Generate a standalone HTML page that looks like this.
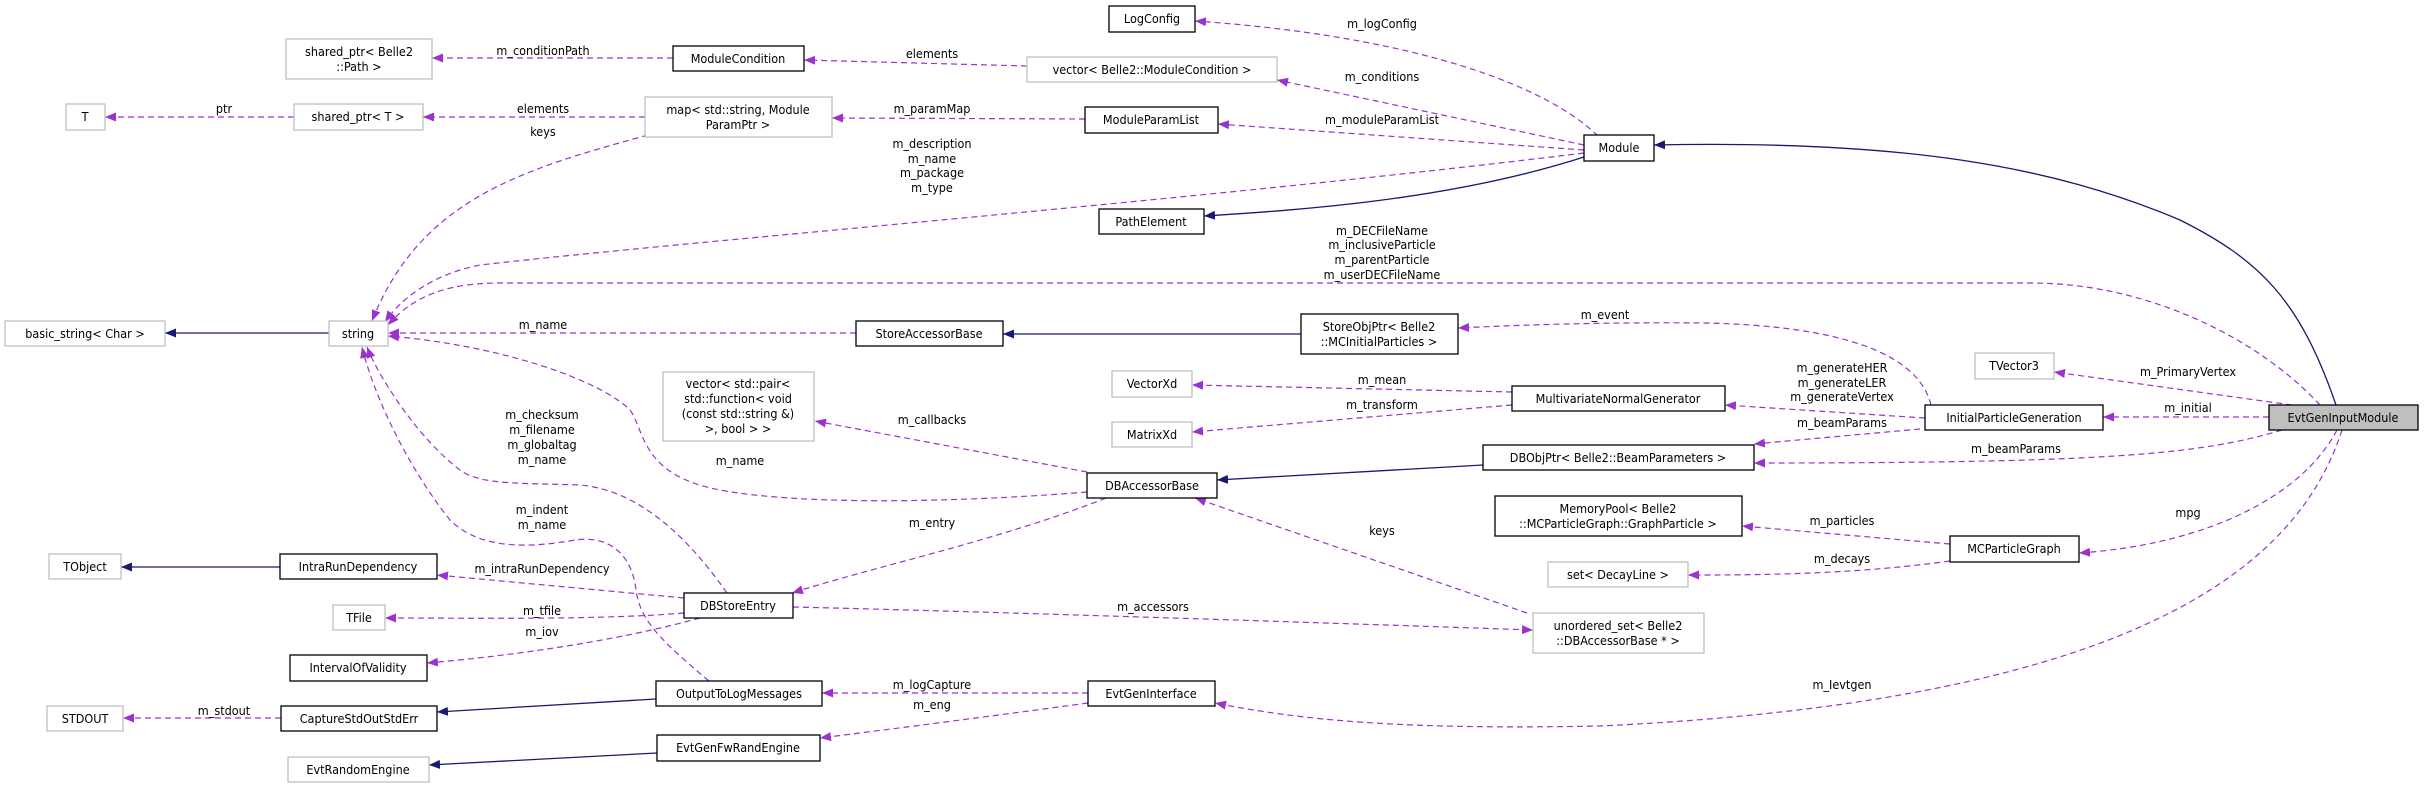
<!DOCTYPE html>
<html><head><meta charset="utf-8"><style>
html,body{margin:0;padding:0;background:#fff;}
svg{display:block;}
text{font-family:"DejaVu Sans","Liberation Sans",sans-serif;font-size:12.5px;fill:#000;font-stretch:condensed;}
.g{fill:#fff;stroke:#bfbfbf;stroke-width:1.3;}
.b{fill:#fff;stroke:#000;stroke-width:1.3;}
.d{fill:none;stroke:#9a32cd;stroke-width:1.2;stroke-dasharray:6,4;}
.s{fill:none;stroke:#191970;stroke-width:1.3;}
</style></head><body>
<svg width="2424" height="788" viewBox="0 0 2424 788" xmlns="http://www.w3.org/2000/svg">
<defs>
<marker id="ap" markerUnits="userSpaceOnUse" markerWidth="12" markerHeight="9" refX="11" refY="4.5" orient="auto"><path d="M0,0 L11,4.5 L0,9 z" fill="#9a32cd"/></marker>
<marker id="an" markerUnits="userSpaceOnUse" markerWidth="12" markerHeight="9" refX="11" refY="4.5" orient="auto"><path d="M0,0 L11,4.5 L0,9 z" fill="#191970"/></marker>
</defs>

<!-- edges -->
<g class="d" marker-end="url(#ap)">
<path d="M673,58 L432,58"/>
<path d="M294,117 L105,117"/>
<path d="M645,117 L423,117"/>
<path d="M648,135 C520,170 420,200 372,321"/>
<path d="M1027,66 L804,60"/>
<path d="M1598,136 C1540,80 1400,35 1195,21"/>
<path d="M1584,145 L1277,80"/>
<path d="M1584,150 L1218,124"/>
<path d="M1085,119 L832,118"/>
<path d="M1584,153 C1200,200 700,240 480,265 C430,275 400,300 385,322"/>
<path d="M2320,405 C2260,340 2150,283 2031,283 L500,283 C440,283 410,300 388,325"/>
<path d="M856,333 L388,333"/>
<path d="M1931,405 C1915,340 1800,325 1705,323 C1600,322 1520,325 1458,328"/>
<path d="M1512,392 L1192,385"/>
<path d="M1512,405 L1192,432"/>
<path d="M1925,418 L1725,405"/>
<path d="M1920,429 L1754,444"/>
<path d="M2282,430 C2200,455 2100,463 1754,463"/>
<path d="M2269,417 L2103,417"/>
<path d="M2292,405 L2054,372"/>
<path d="M2337,430 C2300,500 2200,545 2079,553"/>
<path d="M2342,430 C2300,560 2150,700 1600,726 C1400,730 1300,720 1215,703"/>
<path d="M1950,544 L1742,526"/>
<path d="M1950,561 C1850,575 1750,575 1688,575"/>
<path d="M1087,472 L815,421"/>
<path d="M1087,492 C950,503 800,505 720,490 C640,475 645,430 630,410 C600,380 500,345 388,336"/>
<path d="M727,593 C690,540 640,490 580,485 C520,483 480,485 460,470 C420,440 380,380 367,347"/>
<path d="M709,681 C660,640 640,620 636,590 C632,555 610,535 575,540 C530,548 480,550 450,520 C410,470 375,400 362,347"/>
<path d="M1106,498 C1000,540 880,565 792,593"/>
<path d="M684,598 L437,575"/>
<path d="M684,613 C600,620 480,618 385,618"/>
<path d="M700,618 C620,640 520,655 427,663"/>
<path d="M793,607 C1000,612 1300,622 1533,630"/>
<path d="M1527,613 L1195,498"/>
<path d="M281,718 L123,718"/>
<path d="M1088,693 L822,693"/>
<path d="M1088,703 C1000,715 900,728 820,738"/>
</g>
<g class="s" marker-end="url(#an)">
<path d="M1584,157 C1450,200 1300,210 1204,216"/>
<path d="M2336,405 C2300,300 2260,260 2180,220 C2050,165 1900,140 1654,145"/>
<path d="M1301,334 L1003,334"/>
<path d="M1483,465 L1217,480"/>
<path d="M329,333 L165,333"/>
<path d="M280,567 L121,567"/>
<path d="M656,699 L437,712"/>
<path d="M657,753 L429,765"/>
</g>

<!-- edge labels -->
<g text-anchor="middle">
<text x="543" y="55">m_conditionPath</text>
<text x="224" y="113">ptr</text>
<text x="543" y="113">elements</text>
<text x="543" y="136">keys</text>
<text x="932" y="58">elements</text>
<text x="1382" y="28">m_logConfig</text>
<text x="1382" y="81">m_conditions</text>
<text x="932" y="113">m_paramMap</text>
<text x="1382" y="124">m_moduleParamList</text>
<text x="932" y="148">m_description</text>
<text x="932" y="163">m_name</text>
<text x="932" y="177">m_package</text>
<text x="932" y="192">m_type</text>
<text x="1382" y="235">m_DECFileName</text>
<text x="1382" y="249">m_inclusiveParticle</text>
<text x="1382" y="264">m_parentParticle</text>
<text x="1382" y="279">m_userDECFileName</text>
<text x="543" y="329">m_name</text>
<text x="1605" y="319">m_event</text>
<text x="1382" y="384">m_mean</text>
<text x="1382" y="409">m_transform</text>
<text x="1842" y="372">m_generateHER</text>
<text x="1842" y="387">m_generateLER</text>
<text x="1842" y="401">m_generateVertex</text>
<text x="2188" y="376">m_PrimaryVertex</text>
<text x="2188" y="412">m_initial</text>
<text x="1842" y="427">m_beamParams</text>
<text x="2016" y="453">m_beamParams</text>
<text x="932" y="424">m_callbacks</text>
<text x="2188" y="517">mpg</text>
<text x="1842" y="525">m_particles</text>
<text x="1842" y="563">m_decays</text>
<text x="932" y="527">m_entry</text>
<text x="1382" y="535">keys</text>
<text x="1153" y="611">m_accessors</text>
<text x="542" y="419">m_checksum</text>
<text x="542" y="434">m_filename</text>
<text x="542" y="449">m_globaltag</text>
<text x="542" y="464">m_name</text>
<text x="740" y="465">m_name</text>
<text x="542" y="514">m_indent</text>
<text x="542" y="529">m_name</text>
<text x="542" y="573">m_intraRunDependency</text>
<text x="542" y="615">m_tfile</text>
<text x="542" y="636">m_iov</text>
<text x="224" y="715">m_stdout</text>
<text x="932" y="689">m_logCapture</text>
<text x="932" y="709">m_eng</text>
<text x="1842" y="689">m_Ievtgen</text>
</g>

<!-- nodes -->
<g>
<rect class="g" x="286" y="39" width="146" height="40"/>
<rect class="b" x="673" y="46" width="131" height="25"/>
<rect class="g" x="66" y="104" width="39" height="26"/>
<rect class="g" x="294" y="104" width="129" height="26"/>
<rect class="g" x="645" y="97" width="187" height="40"/>
<rect class="b" x="1109" y="6" width="86" height="26"/>
<rect class="g" x="1027" y="57" width="250" height="25"/>
<rect class="b" x="1085" y="107" width="133" height="26"/>
<rect class="b" x="1584" y="135" width="70" height="26"/>
<rect class="b" x="1099" y="209" width="105" height="25"/>
<rect class="g" x="5" y="321" width="160" height="25"/>
<rect class="g" x="329" y="321" width="59" height="25"/>
<rect class="b" x="856" y="321" width="147" height="25"/>
<rect class="b" x="1301" y="314" width="157" height="40"/>
<rect class="g" x="1975" y="353" width="79" height="26"/>
<rect class="g" x="1112" y="371" width="80" height="26"/>
<rect class="g" x="663" y="372" width="151" height="69"/>
<rect class="b" x="1512" y="386" width="213" height="25"/>
<rect class="b" x="1925" y="405" width="178" height="25"/>
<rect x="2269" y="405" width="149" height="25" fill="#bfbfbf" stroke="#000" stroke-width="1.3"/>
<rect class="g" x="1112" y="422" width="80" height="25"/>
<rect class="b" x="1483" y="445" width="271" height="25"/>
<rect class="b" x="1087" y="473" width="130" height="25"/>
<rect class="b" x="1495" y="496" width="247" height="40"/>
<rect class="b" x="1950" y="536" width="129" height="26"/>
<rect class="g" x="49" y="554" width="72" height="25"/>
<rect class="b" x="280" y="554" width="157" height="25"/>
<rect class="g" x="1548" y="562" width="140" height="25"/>
<rect class="b" x="684" y="593" width="109" height="25"/>
<rect class="g" x="333" y="605" width="52" height="25"/>
<rect class="g" x="1533" y="613" width="171" height="40"/>
<rect class="b" x="290" y="655" width="137" height="26"/>
<rect class="b" x="656" y="681" width="166" height="25"/>
<rect class="b" x="1088" y="681" width="127" height="25"/>
<rect class="g" x="47" y="706" width="76" height="25"/>
<rect class="b" x="281" y="706" width="156" height="25"/>
<rect class="b" x="657" y="735" width="163" height="26"/>
<rect class="g" x="288" y="757" width="141" height="25"/>
</g>
<g text-anchor="middle">
<text x="359" y="56">shared_ptr&lt; Belle2</text><text x="359" y="71">::Path &gt;</text>
<text x="738" y="63">ModuleCondition</text>
<text x="85" y="121">T</text>
<text x="358" y="121">shared_ptr&lt; T &gt;</text>
<text x="738" y="114">map&lt; std::string, Module</text><text x="738" y="129">ParamPtr &gt;</text>
<text x="1152" y="23">LogConfig</text>
<text x="1152" y="74">vector&lt; Belle2::ModuleCondition &gt;</text>
<text x="1151" y="124">ModuleParamList</text>
<text x="1619" y="152">Module</text>
<text x="1151" y="226">PathElement</text>
<text x="85" y="338">basic_string&lt; Char &gt;</text>
<text x="358" y="338">string</text>
<text x="929" y="338">StoreAccessorBase</text>
<text x="1379" y="331">StoreObjPtr&lt; Belle2</text><text x="1379" y="346">::MCInitialParticles &gt;</text>
<text x="2014" y="370">TVector3</text>
<text x="1152" y="388">VectorXd</text>
<text x="738" y="388">vector&lt; std::pair&lt;</text><text x="738" y="403">std::function&lt; void</text><text x="738" y="418">(const std::string &amp;)</text><text x="738" y="433">&gt;, bool &gt; &gt;</text>
<text x="1618" y="403">MultivariateNormalGenerator</text>
<text x="2014" y="422">InitialParticleGeneration</text>
<text x="2343" y="422">EvtGenInputModule</text>
<text x="1152" y="439">MatrixXd</text>
<text x="1618" y="462">DBObjPtr&lt; Belle2::BeamParameters &gt;</text>
<text x="1152" y="490">DBAccessorBase</text>
<text x="1618" y="513">MemoryPool&lt; Belle2</text><text x="1618" y="528">::MCParticleGraph::GraphParticle &gt;</text>
<text x="2014" y="553">MCParticleGraph</text>
<text x="85" y="571">TObject</text>
<text x="358" y="571">IntraRunDependency</text>
<text x="1618" y="579">set&lt; DecayLine &gt;</text>
<text x="738" y="610">DBStoreEntry</text>
<text x="359" y="622">TFile</text>
<text x="1618" y="630">unordered_set&lt; Belle2</text><text x="1618" y="645">::DBAccessorBase * &gt;</text>
<text x="358" y="672">IntervalOfValidity</text>
<text x="739" y="698">OutputToLogMessages</text>
<text x="1151" y="698">EvtGenInterface</text>
<text x="85" y="723">STDOUT</text>
<text x="359" y="723">CaptureStdOutStdErr</text>
<text x="738" y="752">EvtGenFwRandEngine</text>
<text x="358" y="774">EvtRandomEngine</text>
</g>
</svg>
</body></html>
